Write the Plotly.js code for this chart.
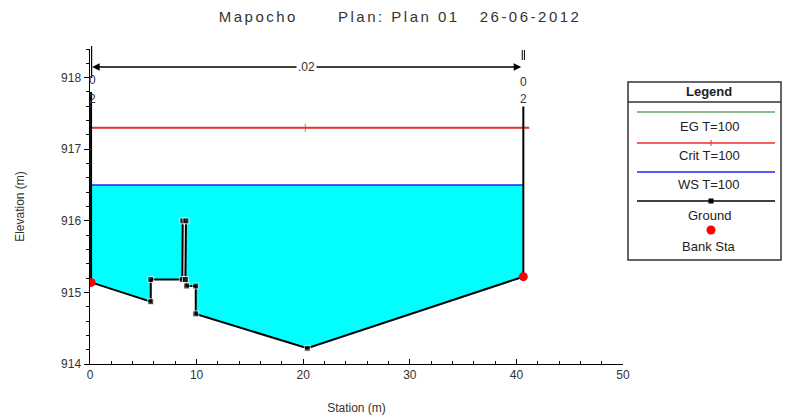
<!DOCTYPE html>
<html>
<head>
<meta charset="utf-8">
<script src="https://cdn.plot.ly/plotly-3.0.1.min.js"></script>
<style>
html,body{margin:0;padding:0;background:#fff;}
#chart{width:797px;height:419px;}
#chart .gtitle{letter-spacing:2.5px;}
</style>
</head>
<body>
<div id="chart"></div>
<script>
// ---- data ----
const groundStation = [0.1, 0.1, 5.7, 5.7, 8.66, 8.7, 9.0, 8.95, 9.07, 9.92, 9.92, 20.38, 40.65, 40.65];
const groundElev    = [917.8, 915.14, 914.87, 915.18, 915.18, 916.0, 916.0, 915.18, 915.09, 915.09, 914.70, 914.22, 915.22, 917.8];
const bankStation = [0.1, 40.65];
const bankElev    = [915.14, 915.22];
const wsElev = 916.5;
const critElev = 917.3;
const egElev = 917.3;
const critStation = [0, 20.2, 41.2];
const manningN = ".02";
const nStations = [0, 40.65];
const xTicks = [0, 10, 20, 30, 40, 50];
const yTicks = [914, 915, 916, 917, 918];

// water polygon: ground portion below WS, clipped at WS
function waterPolygon(xs, ys, ws) {
  const px = [], py = [];
  for (let i = 0; i < xs.length; i++) {
    const below = ys[i] <= ws;
    if (i > 0) {
      const prevBelow = ys[i-1] <= ws;
      if (below !== prevBelow) {
        const t = (ws - ys[i-1]) / (ys[i] - ys[i-1]);
        px.push(xs[i-1] + t * (xs[i] - xs[i-1])); py.push(ws);
      }
    }
    if (below) { px.push(xs[i]); py.push(ys[i]); }
  }
  return {x: px, y: py};
}
const wp = waterPolygon(groundStation, groundElev, wsElev);
const wsX = [wp.x[0], wp.x[wp.x.length-1]];
const groundMarkerSize = groundStation.map((s, i) => (i === 0 || i === groundStation.length - 1) ? 0 : 6);

const font = 'Liberation Sans, Arial, sans-serif';

const traces = [
  {x: wp.x, y: wp.y, mode: 'lines', fill: 'toself', fillcolor: '#00FFFF', line: {width: 0, color: '#00FFFF'}, hoverinfo: 'skip'},
  {x: wsX, y: [wsElev, wsElev], mode: 'lines', line: {color: '#2020FF', width: 1.5}, name: 'WS T=100'},
  {x: [critStation[0], critStation[2]], y: [egElev, egElev], mode: 'lines', line: {color: '#1a7a1a', width: 0.6}, name: 'EG T=100'},
  {x: critStation, y: critStation.map(() => critElev), mode: 'lines+markers', line: {color: '#E83030', width: 2},
   marker: {symbol: 'line-ns', size: [0, 6, 0], line: {color: '#E83030', width: 1}}, name: 'Crit T=100'},
  {x: groundStation, y: groundElev, mode: 'lines+markers', line: {color: '#000', width: 2},
   marker: {symbol: 'square', size: groundMarkerSize, color: '#000'}, name: 'Ground'},
  {x: bankStation, y: bankElev, mode: 'markers', marker: {symbol: 'circle', size: 9, color: '#FF0000'}, name: 'Bank Sta'}
];

// pixel -> paper helpers for the custom legend box
const L = 90, T = 49, W = 533, H = 315;
const px = v => (v - L) / W;
const py = v => (T + H - v) / H;

const shapes = [
  // Manning's n bank markers
  {type: 'line', xref: 'x', yref: 'paper', x0: nStations[0] - 0.15, x1: nStations[0] - 0.15, y0: py(78), y1: py(46), line: {color: '#000', width: 1.2}},
  {type: 'line', xref: 'x', yref: 'paper', x0: nStations[0] + 0.15, x1: nStations[0] + 0.15, y0: py(78), y1: py(46), line: {color: '#000', width: 1.2}},
  {type: 'line', xref: 'x', yref: 'paper', x0: nStations[1] - 0.1, x1: nStations[1] - 0.1, y0: py(60), y1: py(50), line: {color: '#000', width: 1}},
  {type: 'line', xref: 'x', yref: 'paper', x0: nStations[1] + 0.1, x1: nStations[1] + 0.1, y0: py(60), y1: py(50), line: {color: '#000', width: 1}},
  // legend box
  {type: 'rect', xref: 'paper', yref: 'paper', x0: px(628), x1: px(781), y0: py(260), y1: py(82), line: {color: '#333', width: 1.5}, fillcolor: 'rgba(0,0,0,0)'},
  {type: 'line', xref: 'paper', yref: 'paper', x0: px(628), x1: px(781), y0: py(102), y1: py(102), line: {color: '#333', width: 1.5}},
  {type: 'line', xref: 'paper', yref: 'paper', x0: px(637), x1: px(775), y0: py(112), y1: py(112), line: {color: '#1a7a1a', width: 1.2}},
  {type: 'line', xref: 'paper', yref: 'paper', x0: px(637), x1: px(775), y0: py(143), y1: py(143), line: {color: '#E83030', width: 1.5}},
  {type: 'line', xref: 'paper', yref: 'paper', x0: px(711), x1: px(711), y0: py(146), y1: py(140), line: {color: '#E83030', width: 1}},
  {type: 'line', xref: 'paper', yref: 'paper', x0: px(637), x1: px(775), y0: py(172), y1: py(172), line: {color: '#2020FF', width: 1.5}},
  {type: 'line', xref: 'paper', yref: 'paper', x0: px(637), x1: px(775), y0: py(201), y1: py(201), line: {color: '#000', width: 1.5}},
  {type: 'rect', xref: 'paper', yref: 'paper', x0: px(708.5), x1: px(713.5), y0: py(203.5), y1: py(198.5), line: {width: 0}, fillcolor: '#000'},
  {type: 'circle', xref: 'paper', yref: 'paper', x0: px(706.5), x1: px(715.5), y0: py(234.5), y1: py(225.5), line: {width: 0}, fillcolor: '#FF0000'}
];

const ann = (x, y, text, extra) => Object.assign({xref: 'paper', yref: 'paper', x: px(x), y: py(y), text: text, showarrow: false,
  font: {family: font, size: 13, color: '#222'}, xanchor: 'center', yanchor: 'middle'}, extra || {});

const arrowY = 918.15;
const annotations = [
  // Manning's n arrow
  {xref: 'x', yref: 'y', axref: 'x', ayref: 'y', x: nStations[0] + 0.2, y: arrowY, ax: (nStations[0] + nStations[1]) / 2, ay: arrowY,
   showarrow: true, arrowhead: 2, arrowsize: 1, arrowwidth: 1.5, arrowcolor: '#000', text: ''},
  {xref: 'x', yref: 'y', axref: 'x', ayref: 'y', x: nStations[1] - 0.2, y: arrowY, ax: (nStations[0] + nStations[1]) / 2, ay: arrowY,
   showarrow: true, arrowhead: 2, arrowsize: 1, arrowwidth: 1.5, arrowcolor: '#000', text: ''},
  {xref: 'x', yref: 'y', x: (nStations[0] + nStations[1]) / 2, y: arrowY, text: manningN, showarrow: false, bgcolor: '#fff',
   font: {family: font, size: 12, color: '#333'}, borderpad: 1},
  {xref: 'x', yref: 'paper', x: nStations[0] + 0.2, y: py(80), yanchor: 'middle', text: '0', showarrow: false, font: {family: font, size: 12, color: '#333'}, borderpad: 0},
  {xref: 'x', yref: 'paper', x: nStations[0] + 0.2, y: py(99), yanchor: 'middle', text: '2', showarrow: false, font: {family: font, size: 12, color: '#333'}, borderpad: 0},
  {xref: 'x', yref: 'paper', x: nStations[1], y: py(82), yanchor: 'middle', text: '0', showarrow: false, bgcolor: '#fff', font: {family: font, size: 12, color: '#333'}, borderpad: 0},
  {xref: 'x', yref: 'paper', x: nStations[1], y: py(99), yanchor: 'middle', text: '2', showarrow: false, bgcolor: '#fff', font: {family: font, size: 12, color: '#333'}, borderpad: 0},
  // legend texts
  ann(709, 91, '<b>Legend</b>'),
  ann(709, 126, 'EG T=100'),
  ann(709, 155, 'Crit T=100'),
  ann(709, 184, 'WS T=100'),
  ann(709, 215, 'Ground'),
  ann(709, 246, 'Bank Sta')
];

const sp = n => '\u00A0'.repeat(n);
const layout = {
  width: 797, height: 419,
  margin: {l: L, r: 797 - L - W, t: T, b: 419 - T - H},
  paper_bgcolor: '#fff', plot_bgcolor: '#fff',
  showlegend: false,
  font: {family: font, size: 11, color: '#333'},
  title: {text: 'Mapocho' + sp(6) + 'Plan: Plan 01' + sp(3) + '26-06-2012',
    font: {family: font, size: 15, color: '#333'}, xref: 'container', yref: 'container', x: 0.502, y: 1 - 17/419, xanchor: 'center', yanchor: 'middle'},
  xaxis: {range: [0, 50], tickvals: xTicks, ticktext: xTicks.map(String), ticks: 'inside', ticklen: 5, tickcolor: '#000',
    showgrid: false, zeroline: false, showline: true, linecolor: '#000', linewidth: 1,
    minor: {dtick: 2, ticks: 'inside', ticklen: 3, tickcolor: '#000', showgrid: false},
    tickfont: {family: font, size: 12, color: '#333'},
    title: {text: 'Station (m)', font: {family: font, size: 12, color: '#333'}, standoff: 22}},
  yaxis: {range: [914, 918.4], tickvals: yTicks, ticktext: yTicks.map(String), ticks: 'outside', ticklen: 5, tickcolor: '#000',
    showgrid: false, zeroline: false, showline: true, linecolor: '#000', linewidth: 1.5,
    minor: {dtick: 0.2, ticks: 'outside', ticklen: 3, tickcolor: '#000', showgrid: false},
    tickfont: {family: font, size: 12, color: '#333'},
    title: {text: 'Elevation (m)', font: {family: font, size: 12, color: '#333'}, standoff: 34}},
  shapes: shapes,
  annotations: annotations
};

Plotly.newPlot('chart', traces, layout, {staticPlot: true, displayModeBar: false});
</script>
</body>
</html>
